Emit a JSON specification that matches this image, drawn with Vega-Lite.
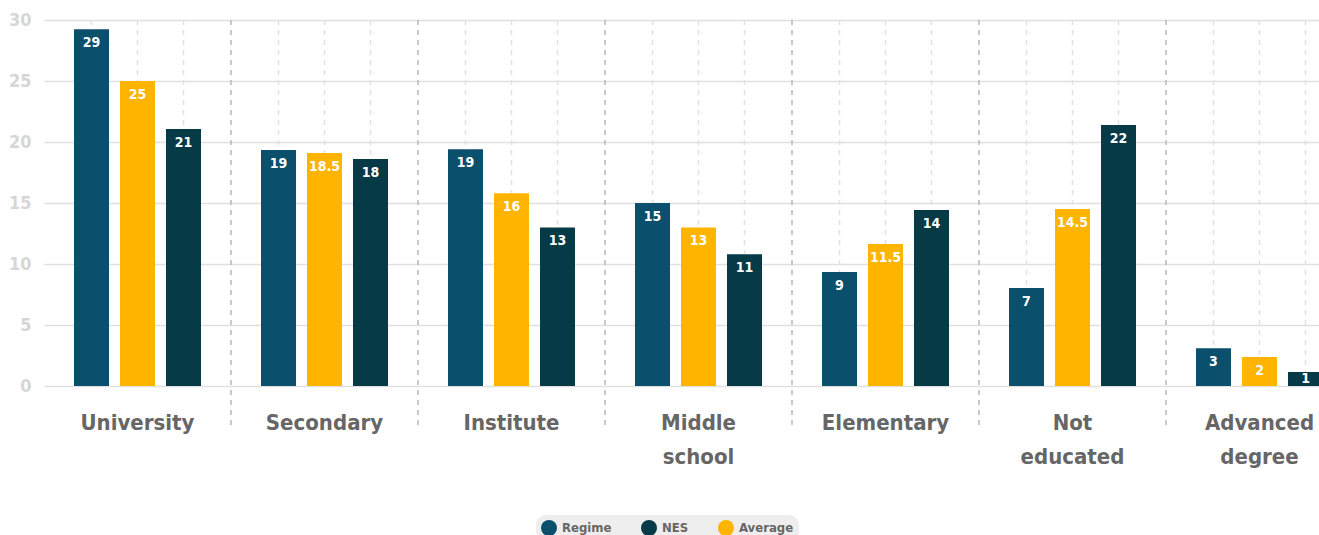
{
  "$schema": "https://vega.github.io/schema/vega-lite/v6.json",
  "width": 1277,
  "height": 366,
  "autosize": {"type": "none"},
  "padding": {"left": 42, "top": 20, "right": 0, "bottom": 149},
  "background": "white",
  "config": {
    "view": {"stroke": null},
    "font": "'DejaVu Sans Condensed', Roboto"
  },
  "data": {
    "values": [
      {"cat": "University", "series": "Regime", "value": 29.25, "label": "29"},
      {"cat": "University", "series": "Average", "value": 25.0, "label": "25"},
      {"cat": "University", "series": "NES", "value": 21.07, "label": "21"},
      {"cat": "Secondary", "series": "Regime", "value": 19.35, "label": "19"},
      {"cat": "Secondary", "series": "Average", "value": 19.1, "label": "18.5"},
      {"cat": "Secondary", "series": "NES", "value": 18.6, "label": "18"},
      {"cat": "Institute", "series": "Regime", "value": 19.4, "label": "19"},
      {"cat": "Institute", "series": "Average", "value": 15.8, "label": "16"},
      {"cat": "Institute", "series": "NES", "value": 13.0, "label": "13"},
      {"cat": "Middle school", "series": "Regime", "value": 15.0, "label": "15"},
      {"cat": "Middle school", "series": "Average", "value": 13.0, "label": "13"},
      {"cat": "Middle school", "series": "NES", "value": 10.8, "label": "11"},
      {"cat": "Elementary", "series": "Regime", "value": 9.34, "label": "9"},
      {"cat": "Elementary", "series": "Average", "value": 11.64, "label": "11.5"},
      {"cat": "Elementary", "series": "NES", "value": 14.43, "label": "14"},
      {"cat": "Not educated", "series": "Regime", "value": 8.03, "label": "7"},
      {"cat": "Not educated", "series": "Average", "value": 14.5, "label": "14.5"},
      {"cat": "Not educated", "series": "NES", "value": 21.4, "label": "22"},
      {"cat": "Advanced degree", "series": "Regime", "value": 3.1, "label": "3"},
      {"cat": "Advanced degree", "series": "Average", "value": 2.38, "label": "2"},
      {"cat": "Advanced degree", "series": "NES", "value": 1.15, "label": "1"}
    ]
  },
  "encoding": {
    "x": {
      "field": "cat",
      "type": "nominal",
      "scale": {
        "domain": ["University", "Secondary", "Institute", "Middle school", "Elementary", "Not educated", "Advanced degree"],
        "range": [2, 1311],
        "paddingInner": 0,
        "paddingOuter": 0
      },
      "axis": {
        "title": null,
        "orient": "bottom",
        "domain": false,
        "ticks": false,
        "grid": false,
        "labelAngle": 0,
        "labelExpr": "split(datum.value, ' ')",
        "labelFont": "'DejaVu Sans Condensed', Roboto",
        "labelFontWeight": "bold",
        "labelFontSize": 22,
        "labelColor": "#666666",
        "labelLineHeight": 34,
        "labelPadding": 26,
        "labelBaseline": "top",
        "labelOverlap": false,
        "labelBound": false
      }
    }
  },
  "layer": [
    {
      "transform": [{"filter": "datum.series == 'Regime' && datum.cat != 'University'"}],
      "mark": {"type": "rule", "color": "#b8b8b8", "strokeWidth": 1.5, "strokeDash": [5, 5]},
      "encoding": {
        "x": {"field": "cat", "type": "nominal", "bandPosition": 0},
        "y": {"datum": 30, "type": "quantitative"},
        "y2": {"datum": -3.6}
      }
    },
    {
      "mark": {"type": "rule", "color": "#e2e2e2", "strokeWidth": 1.5, "strokeDash": [5, 5]},
      "encoding": {
        "xOffset": {"field": "series", "type": "nominal", "scale": {"domain": ["Regime", "Average", "NES"], "paddingInner": 0.239, "paddingOuter": 0.652}}
      }
    },
    {
      "mark": {"type": "bar"},
      "encoding": {
        "xOffset": {"field": "series", "type": "nominal"},
        "y": {
          "field": "value",
          "type": "quantitative",
          "scale": {"domain": [0, 30], "nice": false},
          "axis": {
            "title": null,
            "values": [0, 5, 10, 15, 20, 25, 30],
            "domain": false,
            "ticks": false,
            "grid": true,
            "gridColor": "#e0e0e0",
            "gridWidth": 1.5,
            "labelFont": "'DejaVu Sans Condensed', Roboto",
            "labelFontWeight": "bold",
            "labelFontSize": 18,
            "labelColor": "#d6d6d6",
            "labelPadding": 11
          }
        },
        "color": {
          "field": "series",
          "type": "nominal",
          "scale": {"domain": ["Regime", "NES", "Average"], "range": ["#0a4f6c", "#073a47", "#ffb400"]},
          "legend": {
            "title": null,
            "orient": "none",
            "legendX": 494,
            "legendY": 495,
            "direction": "horizontal",
            "fillColor": "#eeeeee",
            "cornerRadius": 10,
            "padding": 5,
            "symbolType": "circle",
            "symbolSize": 256,
            "symbolStrokeWidth": 0,
            "symbolOpacity": 1,
            "labelFont": "'DejaVu Sans Condensed', Roboto",
            "labelFontWeight": "bold",
            "labelFontSize": 13,
            "labelColor": "#666666",
            "labelOffset": 5,
            "columnPadding": 29
          }
        }
      }
    },
    {
      "transform": [{"filter": "datum.value >= 2"}],
      "mark": {"type": "text", "color": "white", "fontWeight": "bold", "fontSize": 14, "baseline": "middle", "dy": 14, "font": "'DejaVu Sans Condensed', Roboto"},
      "encoding": {
        "xOffset": {"field": "series", "type": "nominal"},
        "y": {"field": "value", "type": "quantitative"},
        "text": {"field": "label"}
      }
    },
    {
      "transform": [{"filter": "datum.value < 2"}],
      "mark": {"type": "text", "color": "white", "fontWeight": "bold", "fontSize": 14, "baseline": "middle", "dy": 7, "font": "'DejaVu Sans Condensed', Roboto"},
      "encoding": {
        "xOffset": {"field": "series", "type": "nominal"},
        "y": {"field": "value", "type": "quantitative"},
        "text": {"field": "label"}
      }
    }
  ]
}
